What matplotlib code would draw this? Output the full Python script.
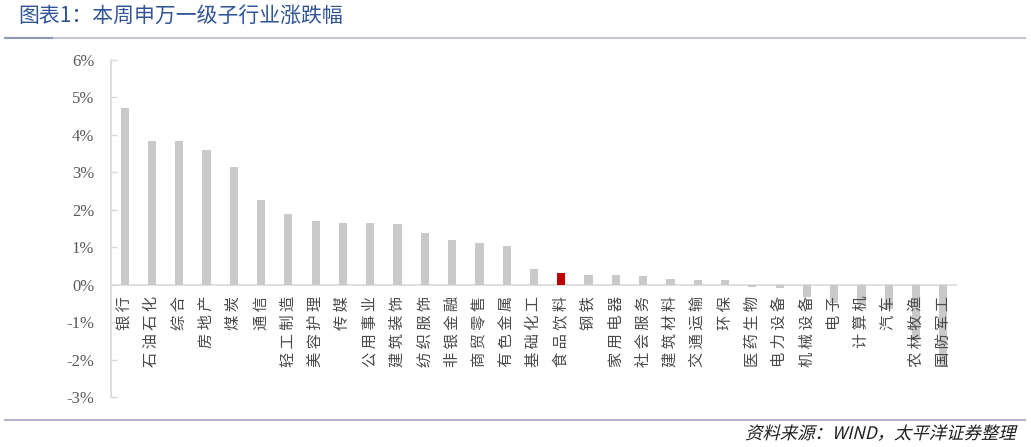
import numpy as np
import matplotlib
matplotlib.use("Agg")
import matplotlib.pyplot as plt
from matplotlib.textpath import TextPath
from matplotlib.patches import PathPatch
from matplotlib.font_manager import FontProperties
from matplotlib.transforms import Affine2D, IdentityTransform
from matplotlib.ticker import FuncFormatter

plt.rcParams['font.family'] = ['Noto Sans CJK SC', 'DejaVu Sans']

industries = ['银行', '石油石化', '综合', '房地产', '煤炭', '通信', '轻工制造', '美容护理',
              '传媒', '公用事业', '建筑装饰', '纺织服饰', '非银金融', '商贸零售', '有色金属',
              '基础化工', '食品饮料', '钢铁', '家用电器', '社会服务', '建筑材料', '交通运输',
              '环保', '医药生物', '电力设备', '机械设备', '电子', '计算机', '汽车',
              '农林牧渔', '国防军工']
changes = [4.73, 3.85, 3.83, 3.59, 3.15, 2.25, 1.90, 1.71, 1.66, 1.64, 1.63, 1.39, 1.20,
           1.10, 1.04, 0.43, 0.31, 0.27, 0.27, 0.22, 0.14, 0.13, 0.13, -0.06, -0.10,
           -0.34, -0.50, -0.55, -0.65, -1.47, -2.20]
highlight = '食品饮料'
yticks = [-3, -2, -1, 0, 1, 2, 3, 4, 5, 6]

W, H = 1031, 447
fig = plt.figure(figsize=(W / 100, H / 100), dpi=100)
ax = fig.add_axes([111 / W, 1 - 397 / H, (957 - 111) / W, (397 - 60) / H])

x = np.arange(len(industries))
colors = ['#C00000' if n == highlight else '#C9C9C9' for n in industries]
ax.bar(x, changes, width=0.3, color=colors, zorder=2)
ax.axhline(0, color='#D9D9D9', lw=1.2, zorder=1)

ax.set_xlim(-0.5, len(industries) - 0.5)
ax.set_ylim(-3, 6)
ax.set_yticks(yticks)
ax.yaxis.set_major_formatter(FuncFormatter(lambda v, p: f'{v:.0f}%'))
ax.tick_params(axis='y', direction='in', length=4, width=1, color='#D9D9D9',
               labelsize=12, labelcolor='#595959', pad=12)
for lab in ax.get_yticklabels():
    lab.set_fontfamily('Liberation Serif')
ax.set_xticks([])
for s in ['top', 'right', 'bottom']:
    ax.spines[s].set_visible(False)
ax.spines['left'].set_color('#D9D9D9')
ax.spines['left'].set_linewidth(1.2)

# category labels hang from the zero line, rotated, letter-spaced
for xi, name in zip(x, industries):
    ax.annotate(' '.join(name), xy=(xi, 0), xytext=(0, -8), textcoords='offset points',
                rotation=90, ha='center', va='top', fontsize=11,
                color='#4A4A4A', zorder=3)

# title and rules
fig.text(18 / W, 1 - 16 / H, '图表1：本周申万一级子行业涨跌幅', fontsize=15,
         color='#2F5597', va='center', ha='left')
fig.add_artist(plt.Line2D([5 / W, 1025 / W], [1 - 37.5 / H] * 2, color='#C4C4DA', lw=1.5))
fig.add_artist(plt.Line2D([5 / W, 52 / W], [1 - 37.5 / H] * 2, color='#8C9AB4', lw=1.5))
fig.add_artist(plt.Line2D([5 / W, 1025 / W], [1 - 420 / H] * 2, color='#B4B4CE', lw=1.5))

# slanted source note (display coords, origin bottom-left)
src = '资料来源：WIND，太平洋证券整理'
tp = TextPath((0, 0), src, prop=FontProperties(family='Noto Sans CJK SC'), size=12.5)
ext = tp.get_extents()
scale = 100 / 72
tr = Affine2D().skew_deg(14, 0).scale(scale).translate(1015 - ext.x1 * scale, H - 439)
fig.add_artist(PathPatch(tr.transform_path(tp), transform=IdentityTransform(),
                         facecolor='#202020', edgecolor='none'))

fig.savefig('out.png', dpi=100)
